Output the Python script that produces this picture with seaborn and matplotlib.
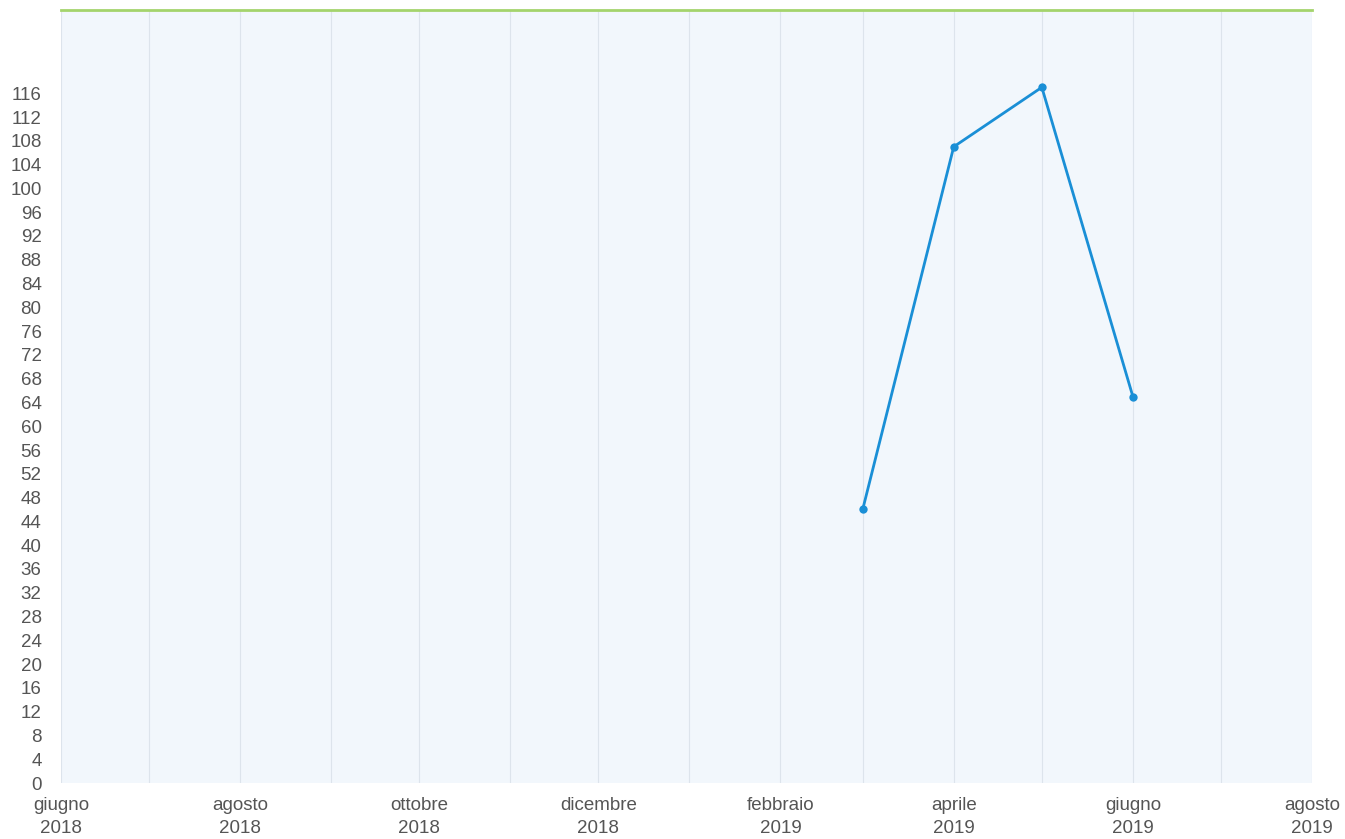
import matplotlib
matplotlib.use("Agg")
import matplotlib.pyplot as plt
import matplotlib.dates as mdates
import numpy as np
import pandas as pd
import seaborn as sns

months = ["2019-03-01", "2019-04-01", "2019-05-01", "2019-06-01"]
values = [46, 107, 117, 65]

tick_months = ["2018-06-01", "2018-08-01", "2018-10-01", "2018-12-01",
               "2019-02-01", "2019-04-01", "2019-06-01", "2019-08-01"]
tick_labels = ["giugno\n2018", "agosto\n2018", "ottobre\n2018", "dicembre\n2018",
               "febbraio\n2019", "aprile\n2019", "giugno\n2019", "agosto\n2019"]

sns.set_theme(style="white")
plt.rcParams["font.family"] = ["Liberation Sans", "DejaVu Sans"]

df = pd.DataFrame({"mese": pd.to_datetime(months), "valore": values})

fig = plt.figure(figsize=(13.45, 8.39), dpi=100)
ax = fig.add_axes([61 / 1345, 56 / 839, 1251 / 1345, 773 / 839])
ax.set_facecolor("#f2f7fc")

sns.lineplot(data=df, x="mese", y="valore", ax=ax, color="#1a8fd6",
             linewidth=2, marker="o", markersize=6, markeredgewidth=0)

ax.set_xlim(pd.Timestamp("2018-06-01"), pd.Timestamp("2019-08-01"))
ax.set_ylim(0, 130)

# monthly vertical grid
ax.xaxis.set_minor_locator(mdates.MonthLocator())
ax.grid(which="both", axis="x", color="#dde4ec", linewidth=0.8)
ax.set_axisbelow(True)
ax.set_xticks(pd.to_datetime(tick_months))
ax.set_xticklabels(tick_labels, fontsize=13.5, color="#555555", linespacing=1.45)
ax.set_yticks(np.arange(0, 117, 4))
ax.tick_params(axis="y", labelsize=13.5, labelcolor="#555555", length=0, pad=14)
ax.tick_params(axis="x", length=0, pad=10)
ax.tick_params(which="minor", length=0)

for s in ["left", "right", "bottom"]:
    ax.spines[s].set_visible(False)
ax.spines["top"].set_color("#a4d46c")
ax.spines["top"].set_linewidth(2)

ax.set_xlabel("")
ax.set_ylabel("")

fig.savefig("out.png", dpi=100)
